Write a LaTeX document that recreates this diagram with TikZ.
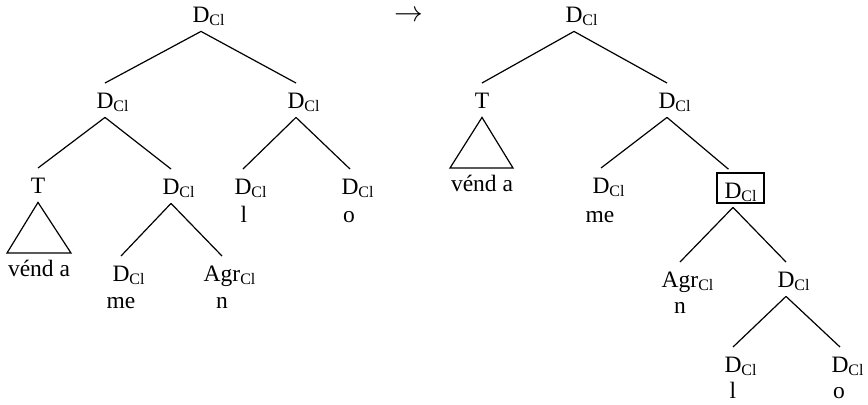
\documentclass[tikz,border=0pt]{standalone}
\usepackage{fontspec}
\setmainfont{Liberation Serif}
\usepackage{tikz}
\usetikzlibrary{positioning}
\newcommand{\Cl}{\rlap{\raisebox{-1.5pt}{\fontsize{8}{8}\selectfont Cl}}}

\begin{document}
\begin{tikzpicture}[x=0.5pt,y=-0.5pt]
  \tikzset{
    cat/.style={anchor=base, inner xsep=0pt, inner ysep=4.5pt, text height=7.8pt,
      text depth=0pt, font=\fontsize{11.75}{13}\selectfont},
    word/.style={anchor=base, inner sep=0pt, font=\fontsize{11.75}{13}\selectfont},
    br/.style={line width=0.6pt},
    tobox/.style={br, shorten >=3pt},
  }
  \useasboundingbox (0,0) rectangle (868,404);
  % left tree
  \begin{scope}
    \node[cat] (l1) at (201,22) {D\Cl};
    \node[cat] (l2) at (105,108) {D\Cl};
    \node[cat] (l3) at (296,108) {D\Cl};
    \node[cat] (l4) at (38,193) {T};
    \node[cat] (l5) at (171,194) {D\Cl};
    \node[cat] (l6) at (243,194) {D\Cl};
    \node[cat] (l7) at (350,194) {D\Cl};
    \node[cat] (l8) at (121,281) {D\Cl};
    \node[cat] (l9) at (222,281) {Agr\Cl};
    \node[word] (lw1) at (39,276) {vénd a};
    \node[word] (lw2) at (244,222) {l};
    \node[word] (lw3) at (349,222) {o};
    \node[word] (lw4) at (121,308) {me};
    \node[word] (lw5) at (222,308) {n};
    \draw[br] (l1.south) -- (l2.north);
    \draw[br] (l1.south) -- (l3.north);
    \draw[br] (l2.south) -- (l4.north);
    \draw[br] (l2.south) -- (l5.north);
    \draw[br] (l3.south) -- (l6.north);
    \draw[br] (l3.south) -- (l7.north);
    \draw[br] (l5.south) -- (l8.north);
    \draw[br] (l5.south) -- (l9.north);
    \draw[br] (l4.south) -- (7,253) -- (71,253) -- cycle;
  \end{scope}
  % arrow
  \node[inner sep=0pt, font=\fontsize{14}{14}\selectfont] (arr) at (409,16) {$\rightarrow$};
  % right tree
  \begin{scope}
    \node[cat] (r1) at (574,22) {D\Cl};
    \node[cat] (r2) at (482,108) {T};
    \node[cat] (r3) at (667,108) {D\Cl};
    \node[cat] (r4) at (601,193) {D\Cl};
    \node[cat] (r5) at (733,198) {D\Cl};
    \node[cat] (r6) at (680,287) {Agr\Cl};
    \node[cat] (r7) at (786,287) {D\Cl};
    \node[cat] (r8) at (733,372) {D\Cl};
    \node[cat] (r9) at (840,372) {D\Cl};
    \node[word] (rw1) at (482,191) {vénd a};
    \node[word] (rw2) at (600,222) {me};
    \node[word] (rw3) at (680,313) {n};
    \node[word] (rw4) at (733,398) {l};
    \node[word] (rw5) at (839,398) {o};
    \draw[br] (717,173) rectangle (764,203);
    \draw[br] (r1.south) -- (r2.north);
    \draw[br] (r1.south) -- (r3.north);
    \draw[br] (r3.south) -- (r4.north);
    \draw[tobox] (r3.south) -- (r5.north);
    \draw[br] (r5.south) -- (r6.north);
    \draw[br] (r5.south) -- (r7.north);
    \draw[br] (r7.south) -- (r8.north);
    \draw[br] (r7.south) -- (r9.north);
    \draw[br] (r2.south) -- (450,168) -- (513,168) -- cycle;
  \end{scope}
\end{tikzpicture}
\end{document}
